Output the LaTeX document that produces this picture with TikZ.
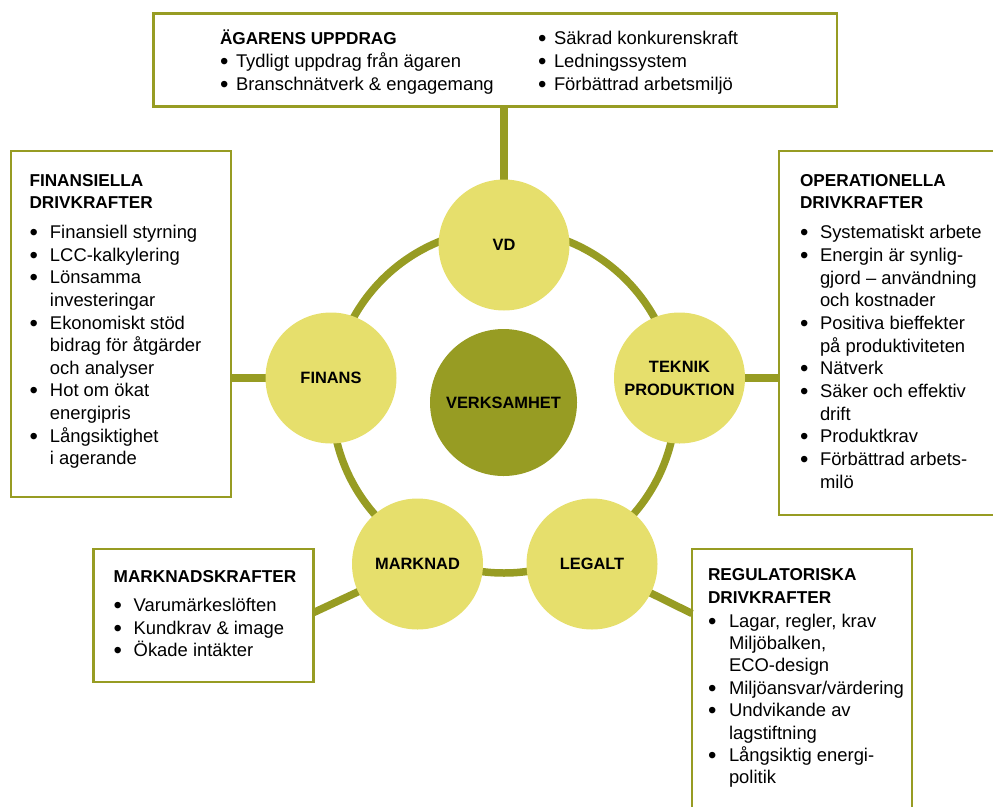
\documentclass[tikz,border=0pt]{standalone}
\usepackage{fontspec}
\setmainfont{Liberation Sans}
\usetikzlibrary{backgrounds}
\definecolor{drvOlive}{HTML}{979C23}
\definecolor{drvLight}{HTML}{E6DF6C}
\newcommand{\drvbul}[1]{\makebox[#1pt][l]{\raisebox{-2pt}{\scalebox{1.3}{•}}}}
\newcommand{\drvhead}[1]{{\fontsize{17.2}{20}\selectfont\bfseries #1}}
\newcommand{\drvlines}[2]{\vtop{\baselineskip=#1pt\lineskiplimit=-50pt\lineskip=0pt\halign{##\hfil\cr #2\crcr}}}
\begin{document}
\begin{tikzpicture}[x=1pt,y=-1pt,
  topic/.style={circle, fill=drvLight, minimum size=131pt, inner sep=0pt, outer sep=0pt, align=center, text=black, font=\fontsize{16.4}{23}\selectfont\bfseries},
  core/.style={topic, fill=drvOlive, minimum size=147pt},
  panel/.style={draw=drvOlive, line width=2.6pt, inner sep=0pt, outer sep=0pt},
  link/.style={draw=drvOlive, line width=7.5pt},
  txt/.style={anchor=base west, inner sep=0pt, outer sep=0pt, text=black, font=\fontsize{18.4}{22.6}\selectfont}]
\useasboundingbox (0,0) rectangle (993,806);
\clip (0,0) rectangle (993,806);

% boxes
\node[panel, minimum width=683.7pt, minimum height=93.2pt] (own) at (495.15,59.9) {};
\node[panel, minimum width=220pt, minimum height=346pt] (finbox) at (121,324) {};
\node[panel, minimum width=231pt, minimum height=364pt] (opbox) at (894.5,333) {};
\node[panel, minimum width=220pt, minimum height=281pt] (regbox) at (802,689.5) {};
\node[panel, minimum width=220.3pt, minimum height=133pt] (mkbox) at (203.55,615.5) {};

% circles
\coordinate (ringc) at (504,401);
\node[topic] (vd) at (504,245) {VD};
\node[topic] (fin) at (331,378) {FINANS};
\node[topic] (tek) at (679.5,378) {TEKNIK\\PRODUKTION};
\node[topic] (mkt) at (417.5,564) {MARKNAD};
\node[topic] (leg) at (592,564) {LEGALT};
\node[core] (core) at (503.5,402.5) {VERKSAMHET};

\coordinate (mkEnd) at (313.7,612.5);
\coordinate (legEnd) at (692,613.5);

\begin{scope}[on background layer]
  \draw[link] (ringc) circle[radius=172pt];
  \draw[link] (vd.center) -- (vd.center |- own.south);
  \draw[link] (fin.center) -- (fin.center -| finbox.east);
  \draw[link] (tek.center) -- (tek.center -| opbox.west);
  \draw[link] (mkt.center) -- (mkEnd);
  \draw[link] (leg.center) -- (legEnd);
\end{scope}

% texts
\node[txt] (ownL) at (220,44) {\drvlines{23}{\drvhead{ÄGARENS UPPDRAG}\cr
  \drvbul{16}Tydligt uppdrag från ägaren\cr
  \drvbul{16}Branschnätverk \& engagemang\cr}};
\node[txt] (ownR) at (538,44) {\drvlines{23}{\drvbul{16}Säkrad konkurenskraft\cr
  \drvbul{16}Ledningssystem\cr
  \drvbul{16}Förbättrad arbetsmiljö\cr}};

\node[txt] (fintext) at (29.5,186.7) {\drvlines{22.65}{\drvhead{FINANSIELLA}\cr
  \noalign{\vskip-1pt}\drvhead{DRIVKRAFTER}\cr
  \noalign{\vskip7.4pt}\drvbul{20.5}Finansiell styrning\cr
  \drvbul{20.5}LCC-kalkylering\cr
  \drvbul{20.5}Lönsamma\cr
  \hspace*{20.5pt}investeringar\cr
  \drvbul{20.5}Ekonomiskt stöd\cr
  \hspace*{20.5pt}bidrag för åtgärder\cr
  \hspace*{20.5pt}och analyser\cr
  \drvbul{20.5}Hot om ökat\cr
  \hspace*{20.5pt}energipris\cr
  \drvbul{20.5}Långsiktighet\cr
  \hspace*{20.5pt}i agerande\cr}};

\node[txt] (optext) at (800,186.7) {\drvlines{22.64}{\drvhead{OPERATIONELLA}\cr
  \noalign{\vskip-1pt}\drvhead{DRIVKRAFTER}\cr
  \noalign{\vskip8pt}\drvbul{20}Systematiskt arbete\cr
  \drvbul{20}Energin är synlig-\cr
  \hspace*{20pt}gjord – användning\cr
  \hspace*{20pt}och kostnader\cr
  \drvbul{20}Positiva bieffekter\cr
  \hspace*{20pt}på produktiviteten\cr
  \drvbul{20}Nätverk\cr
  \drvbul{20}Säker och effektiv\cr
  \hspace*{20pt}drift\cr
  \drvbul{20}Produktkrav\cr
  \drvbul{20}Förbättrad arbets-\cr
  \hspace*{20pt}milö\cr}};

\node[txt] (regtext) at (708,580) {\drvlines{22.4}{\drvhead{REGULATORISKA}\cr
  \noalign{\vskip0.6pt}\drvhead{DRIVKRAFTER}\cr
  \noalign{\vskip1.6pt}\drvbul{21}Lagar, regler, krav\cr
  \hspace*{21pt}Miljöbalken,\cr
  \hspace*{21pt}ECO-design\cr
  \drvbul{21}Miljöansvar/värdering\cr
  \drvbul{21}Undvikande av\cr
  \hspace*{21pt}lagstiftning\cr
  \drvbul{21}Långsiktig energi-\cr
  \hspace*{21pt}politik\cr}};

\node[txt] (mktext) at (113.7,582) {\drvlines{22.5}{\drvhead{MARKNADSKRAFTER}\cr
  \noalign{\vskip7.2pt}\drvbul{20}Varumärkeslöften\cr
  \drvbul{20}Kundkrav \& image\cr
  \drvbul{20}Ökade intäkter\cr}};
\end{tikzpicture}
\end{document}
